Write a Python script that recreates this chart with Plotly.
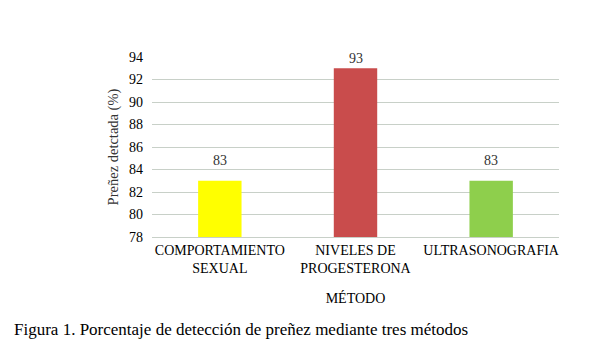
import plotly.graph_objects as go

metodos = ["COMPORTAMIENTO<br>SEXUAL", "NIVELES DE<br>PROGESTERONA", "ULTRASONOGRAFIA"]
deteccion = [83, 93, 83]
colores = ["#ffff00", "#c94c4c", "#8ecf4c"]
y_ticks = [78, 80, 82, 84, 86, 88, 90, 92, 94]

FONT = "Liberation Serif, Times New Roman, serif"

fig = go.Figure()
fig.add_trace(go.Bar(
    x=metodos,
    y=deteccion,
    marker=dict(color=colores, line=dict(width=0)),
    width=0.32,
    hoverinfo="skip",
))

# value labels above each bar (the tallest one sits closer, near the top edge)
for m, v in zip(metodos, deteccion):
    fig.add_annotation(
        x=m, y=v, text=str(v), showarrow=False,
        yanchor="bottom", yshift=11 if v < max(y_ticks) - 2 else 0,
        font=dict(family=FONT, size=14, color="#333333"),
    )

fig.add_annotation(
    xref="paper", yref="paper", x=-0.345, y=-0.45,
    xanchor="left", yanchor="top", showarrow=False,
    text="Figura 1. Porcentaje de detección de preñez mediante tres métodos",
    font=dict(family=FONT, size=17, color="#000000"),
)

fig.update_layout(
    width=608, height=347,
    margin=dict(l=152, r=49, t=57, b=110),
    paper_bgcolor="white", plot_bgcolor="white",
    showlegend=False,
    font=dict(family=FONT, size=14, color="#000000"),
    xaxis=dict(
        showgrid=False, showline=True, linecolor="#c8d0c8", linewidth=1,
        ticks="", tickfont=dict(family=FONT, size=14, color="#000000"),
        title=dict(text="MÉTODO", standoff=18, font=dict(family=FONT, size=14)),
    ),
    yaxis=dict(
        range=[78, 94], tickvals=y_ticks, showgrid=True, gridcolor="#c8d0c8",
        gridwidth=1, zeroline=False, showline=False, ticks="",
        ticklabelstandoff=8,
        tickfont=dict(family=FONT, size=14, color="#000000"),
        title=dict(text="Preñez detctada (%)", standoff=6, font=dict(family=FONT, size=14.5, color="#333333")),
    ),
)

fig.write_html("out.html")
